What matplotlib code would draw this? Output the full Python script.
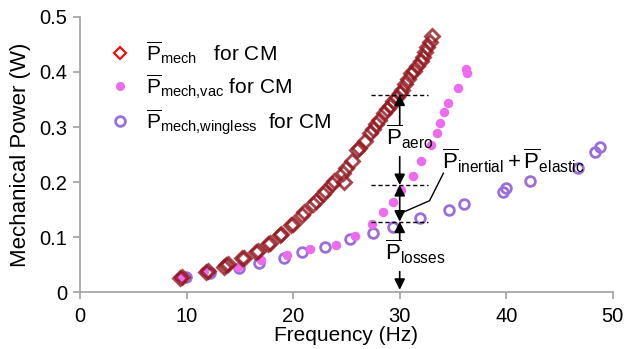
import matplotlib
matplotlib.use("Agg")
import matplotlib.pyplot as plt
from matplotlib.lines import Line2D

plt.rcParams['font.family'] = ['Liberation Sans', 'DejaVu Sans']
plt.rcParams['mathtext.fontset'] = 'custom'
plt.rcParams['mathtext.rm'] = 'Liberation Sans'
plt.rcParams['mathtext.it'] = 'Liberation Sans:italic'
plt.rcParams['mathtext.bf'] = 'Liberation Sans:bold'

# P_mech for CM (several overlapping trials)
mech_f = [9.4, 9.6, 11.8, 12.0, 13.5, 13.7, 13.9, 15.2, 15.4, 16.5, 16.7, 17.6, 17.8,
          18.8, 18.9, 19.8, 20.0, 20.8, 21.0, 21.9, 22.1, 22.8, 23.0, 23.6, 23.8,
          24.7, 24.8, 25.0, 25.5, 26.0, 26.2, 26.7, 27.2, 27.5, 27.8, 28.1, 28.5,
          28.8, 29.1, 29.4, 29.7, 30.0, 30.2, 30.5, 30.8, 31.1, 31.3, 31.6, 32.0,
          32.2, 32.4, 32.6, 32.8, 33.0]
mech_p = [0.025, 0.028, 0.036, 0.038, 0.046, 0.049, 0.051, 0.061, 0.062, 0.072, 0.075,
          0.087, 0.089, 0.103, 0.106, 0.121, 0.124, 0.140, 0.145, 0.160, 0.165, 0.178,
          0.183, 0.197, 0.202, 0.216, 0.200, 0.226, 0.238, 0.258, 0.262, 0.275, 0.290,
          0.296, 0.305, 0.313, 0.326, 0.333, 0.339, 0.348, 0.355, 0.362, 0.368, 0.378,
          0.388, 0.398, 0.402, 0.410, 0.420, 0.428, 0.436, 0.446, 0.455, 0.465]

# P_mech,vac for CM
vac_f = [9.3, 9.7, 11.6, 14.8, 17.0, 19.4, 21.6, 24.0, 25.8, 27.4, 28.4, 29.4, 30.1,
         31.2, 32.0, 32.9, 33.5, 33.8, 34.2, 34.5, 35.5, 36.2, 36.3]
vac_p = [0.027, 0.029, 0.039, 0.046, 0.058, 0.068, 0.078, 0.086, 0.102, 0.124, 0.146,
         0.164, 0.185, 0.211, 0.238, 0.267, 0.289, 0.307, 0.328, 0.344, 0.371, 0.405,
         0.398]

# P_mech,wingless for CM
wingless_f = [9.9, 12.2, 14.9, 16.8, 19.1, 20.8, 23.0, 25.3, 27.5, 29.4, 31.9, 34.6,
              36.0, 39.7, 40.0, 42.2, 46.7, 48.3, 48.8]
wingless_p = [0.028, 0.035, 0.043, 0.052, 0.061, 0.073, 0.082, 0.096, 0.108, 0.119,
              0.134, 0.149, 0.160, 0.182, 0.189, 0.202, 0.225, 0.255, 0.263]

# reference levels at 30 Hz
f_ref = 30
level_mech = 0.359
level_vac = 0.1945
level_wingless = 0.128

fig = plt.figure(figsize=(6.26, 3.49), dpi=100)
ax = fig.add_axes([0.1278, 0.1633, 0.979 - 0.1278, 0.9513 - 0.1633])

red = '#941820'
magenta = '#EE6AEE'
purple = '#9B6FD8'

ax.plot(wingless_f, wingless_p, ls='none', marker='o', ms=7, mfc='none',
        mec=purple, mew=2, zorder=3)
ax.plot(vac_f, vac_p, ls='none', marker='o', ms=6.8, mfc=magenta, mec='none', zorder=3)
ax.plot(mech_f, mech_p, ls='none', marker='D', ms=7, mfc='none', mec=red,
        mew=2.1, alpha=0.8, zorder=4)

# dashed reference lines
for lv in [level_mech, level_vac, level_wingless]:
    ax.plot([27.3, 32.7], [lv, lv], ls=(0, (3, 2)), color='black', lw=1, zorder=5)

arr = dict(arrowstyle='-|>', color='black', lw=1.2, mutation_scale=16,
           shrinkA=0, shrinkB=0)
dbl = dict(arrowstyle='<|-|>', color='black', lw=1.2, mutation_scale=16,
           shrinkA=0, shrinkB=0)
ax.annotate('', xy=(f_ref, level_mech), xytext=(f_ref, 0.304), arrowprops=arr, zorder=6)
ax.annotate('', xy=(f_ref, level_vac), xytext=(f_ref, 0.246), arrowprops=arr, zorder=6)
ax.annotate('', xy=(f_ref, level_wingless), xytext=(f_ref, level_vac), arrowprops=dbl, zorder=6)
ax.annotate('', xy=(f_ref, level_wingless), xytext=(f_ref, 0.0945), arrowprops=arr, zorder=6)
ax.annotate('', xy=(f_ref, 0.004), xytext=(f_ref, 0.037), arrowprops=arr, zorder=6,
            annotation_clip=False)

# leader line for inertial + elastic
ax.plot([34.1, 32.8, 30.2], [0.216, 0.166, 0.144], color='black', lw=1, zorder=6)

ax.text(28.7, 0.267, r'$\overline{\mathrm{P}}_{\mathrm{aero}}$', fontsize=16,
        ha='left', va='baseline')
ax.text(28.6, 0.057, r'$\overline{\mathrm{P}}_{\mathrm{losses}}$', fontsize=16,
        ha='left', va='baseline')
ax.text(34.0, 0.223, r'$\overline{\mathrm{P}}_{\mathrm{inertial}}+\overline{\mathrm{P}}_{\mathrm{elastic}}$',
        fontsize=16, ha='left', va='baseline')

handles = [
    Line2D([], [], ls='none', marker='D', ms=6.5, mfc='none', mec='red', mew=1.5),
    Line2D([], [], ls='none', marker='o', ms=6.5, mfc=magenta, mec='none'),
    Line2D([], [], ls='none', marker='o', ms=7, mfc='none', mec=purple, mew=2),
]
labels = [
    r'$\overline{\mathrm{P}}_{\mathrm{mech}}$   for CM',
    r'$\overline{\mathrm{P}}_{\mathrm{mech{,}vac}}$ for CM',
    r'$\overline{\mathrm{P}}_{\mathrm{mech{,}wingless}}$  for CM',
]
ax.legend(handles, labels, loc='upper left', bbox_to_anchor=(0.04, 0.95),
          frameon=False, fontsize=15, handlelength=1.0, handletextpad=0.75,
          labelspacing=0.32, borderaxespad=0)

ax.set_xlim(0, 50)
ax.set_ylim(0, 0.5)
ax.set_xticks([0, 10, 20, 30, 40, 50])
ax.set_yticks([0, 0.1, 0.2, 0.3, 0.4, 0.5])
ax.set_yticklabels(['0', '0.1', '0.2', '0.3', '0.4', '0.5'])
ax.set_xlabel('Frequency (Hz)', fontsize=15, labelpad=0)
ax.set_ylabel('Mechanical Power (W)', fontsize=16, labelpad=6)

for s in ['top', 'right']:
    ax.spines[s].set_visible(False)
for s in ['left', 'bottom']:
    ax.spines[s].set_color('#A0A0A0')
    ax.spines[s].set_linewidth(1.2)
ax.tick_params(axis='both', colors='#A0A0A0', labelcolor='black', labelsize=14.5,
               length=5, width=1.2, direction='out')
ax.tick_params(axis='x', pad=6)
ax.tick_params(axis='y', pad=4)

fig.savefig('out.png', dpi=100)
